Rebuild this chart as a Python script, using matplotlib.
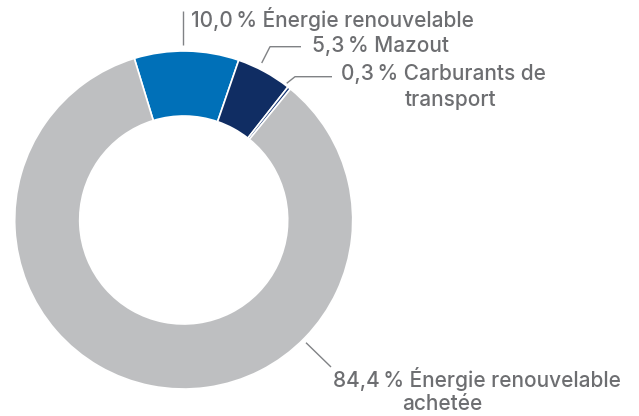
import matplotlib
matplotlib.use("Agg")
import matplotlib.pyplot as plt

# Data
categories = ["Énergie renouvelable", "Mazout", "Carburants de transport", "Énergie renouvelable achetée"]
values = [10.0, 5.3, 0.3, 84.4]
colors = ["#0070B8", "#102D63", "#1A3A78", "#BEBFC1"]
label_lines = [
    ["10,0\u202f% Énergie renouvelable"],
    ["5,3\u202f% Mazout"],
    ["0,3\u202f% Carburants de", "transport"],
    ["84,4\u202f% Énergie renouvelable", "achetée"],
]

W, H = 639, 416
fig = plt.figure(figsize=(W / 100, H / 100), dpi=100)
ax = fig.add_axes([0, 0, 1, 1])

def Y(y):
    return H - y

cx, cy, R, r_in = 183.7, 220, 169, 104
ax.pie(values, colors=colors, startangle=107, counterclock=False,
       center=(cx, Y(cy)), radius=R, frame=True,
       wedgeprops=dict(width=R - r_in, edgecolor="white", linewidth=1.2))
ax.set_xlim(0, W)
ax.set_ylim(0, H)
ax.set_aspect("equal")
ax.axis("off")

lc = "#808285"
tc = "#6D6E71"
font = dict(family=["Inter", "DejaVu Sans"], fontsize=15, fontweight="medium", color=tc)

# leader lines (pixel coords)
leaders = [
    [(183.3, 45), (183.3, 11)],
    [(261.7, 63), (270, 46.7), (301, 46.7)],
    [(286.7, 83.3), (295, 76.7), (332, 76.7)],
    [(306, 342.7), (331, 367)],
]
for pts in leaders:
    ax.plot([p[0] for p in pts], [Y(p[1]) for p in pts], color=lc, lw=1.0,
            solid_capstyle="butt")

# label positions: (x_left, y_center) for each line
positions = [
    [(191, 19)],
    [(312, 46)],
    [(341, 74.5), (405, 100)],
    [(333, 379), (402, 404)],
]
for lines, pos in zip(label_lines, positions):
    for txt, (x, y) in zip(lines, pos):
        ax.text(x, Y(y), txt, ha="left", va="center", **font)

fig.savefig("out.png", dpi=100)
